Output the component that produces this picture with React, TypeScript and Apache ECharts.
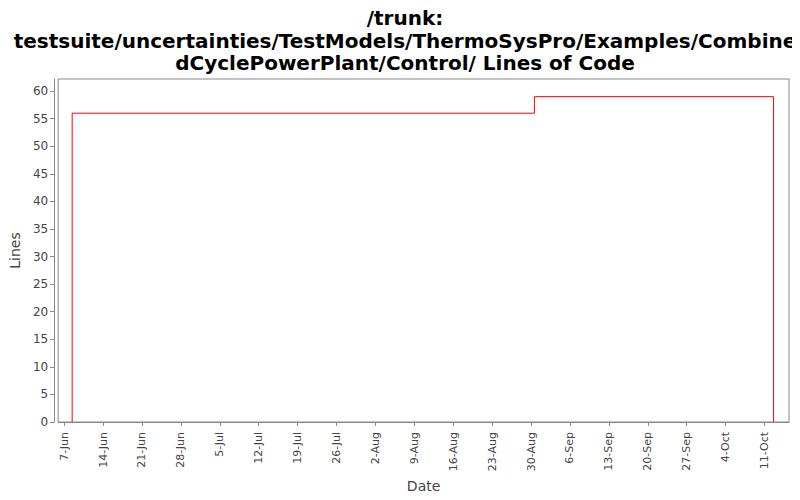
import { useEffect, useRef } from 'react';
import * as echarts from 'echarts';

const DAY = 24 * 3600 * 1000;
const d = (m: number, day: number, h = 0, min = 0) => Date.UTC(2009, m - 1, day, h, min);

// step series: commit times and lines of code
const locTimes = [d(6, 8, 10, 30), d(6, 8, 10, 30), d(8, 30, 14, 24), d(10, 12, 15), d(10, 12, 15)];
const locValues = [0, 56, 59, 59, 0];

const xTicks = [
    d(6, 7), d(6, 14), d(6, 21), d(6, 28), d(7, 5), d(7, 12), d(7, 19), d(7, 26),
    d(8, 2), d(8, 9), d(8, 16), d(8, 23), d(8, 30), d(9, 6), d(9, 13), d(9, 20),
    d(9, 27), d(10, 4), d(10, 11),
];
const yTicks = [0, 5, 10, 15, 20, 25, 30, 35, 40, 45, 50, 55, 60];
const MONTHS = ['Jan', 'Feb', 'Mar', 'Apr', 'May', 'Jun', 'Jul', 'Aug', 'Sep', 'Oct', 'Nov', 'Dec'];

const FONT = 'DejaVu Sans';

export default function App() {
    const chartRef = useRef<HTMLDivElement>(null);

    useEffect(() => {
        if (!chartRef.current) return;
        const chart = echarts.init(chartRef.current, null, { renderer: 'svg' });

        chart.setOption({
            animation: false,
            backgroundColor: '#fff',
            title: {
                text: '/trunk:\ntestsuite/uncertainties/TestModels/ThermoSysPro/Examples/Combine\ndCyclePowerPlant/Control/ Lines of Code',
                left: 400,
                top: 2,
                textAlign: 'center',
                textStyle: {
                    fontFamily: FONT,
                    fontWeight: 'bold',
                    fontSize: 20,
                    lineHeight: 22.5,
                    color: '#000',
                },
            },
            grid: {
                left: 58,
                right: 11,
                top: 79,
                bottom: 78,
                show: true,
                borderColor: '#888',
                borderWidth: 1,
                backgroundColor: '#fff',
            },
            xAxis: {
                type: 'value',
                min: d(6, 7) - 1.08 * DAY,
                max: d(10, 11) + 4.4 * DAY,
                offset: 4,
                name: 'Date',
                nameLocation: 'middle',
                nameGap: 49,
                nameTextStyle: { fontFamily: FONT, fontSize: 14, color: '#444' },
                axisLine: { lineStyle: { color: '#888' } },
                axisTick: { customValues: xTicks, length: 4, lineStyle: { color: '#888' } },
                axisLabel: {
                    customValues: xTicks,
                    rotate: 90,
                    fontFamily: FONT,
                    fontSize: 11,
                    color: '#444',
                    margin: 6,
                    formatter: (v: number) => {
                        const dt = new Date(v);
                        return dt.getUTCDate() + '-' + MONTHS[dt.getUTCMonth()];
                    },
                },
                splitLine: { show: false },
            },
            yAxis: {
                type: 'value',
                min: 0,
                max: 62.2,
                offset: 4,
                name: 'Lines',
                nameLocation: 'middle',
                nameGap: 28,
                nameTextStyle: { fontFamily: FONT, fontSize: 14, color: '#444' },
                axisLine: { show: true, lineStyle: { color: '#888' } },
                axisTick: { show: true, customValues: yTicks, length: 4, lineStyle: { color: '#888' } },
                axisLabel: {
                    customValues: yTicks,
                    fontFamily: FONT,
                    fontSize: 12,
                    color: '#444',
                    margin: 6,
                },
                splitLine: { show: false },
            },
            series: [
                {
                    type: 'line',
                    step: 'end',
                    data: locTimes.map((t, i) => [t, locValues[i]]),
                    showSymbol: false,
                    lineStyle: { color: '#ff0000', width: 1 },
                    itemStyle: { color: '#ff0000' },
                },
            ],
        });

        return () => chart.dispose();
    }, []);

    return <div ref={chartRef} style={{ width: 800, height: 500, margin: -8 }} />;
}
